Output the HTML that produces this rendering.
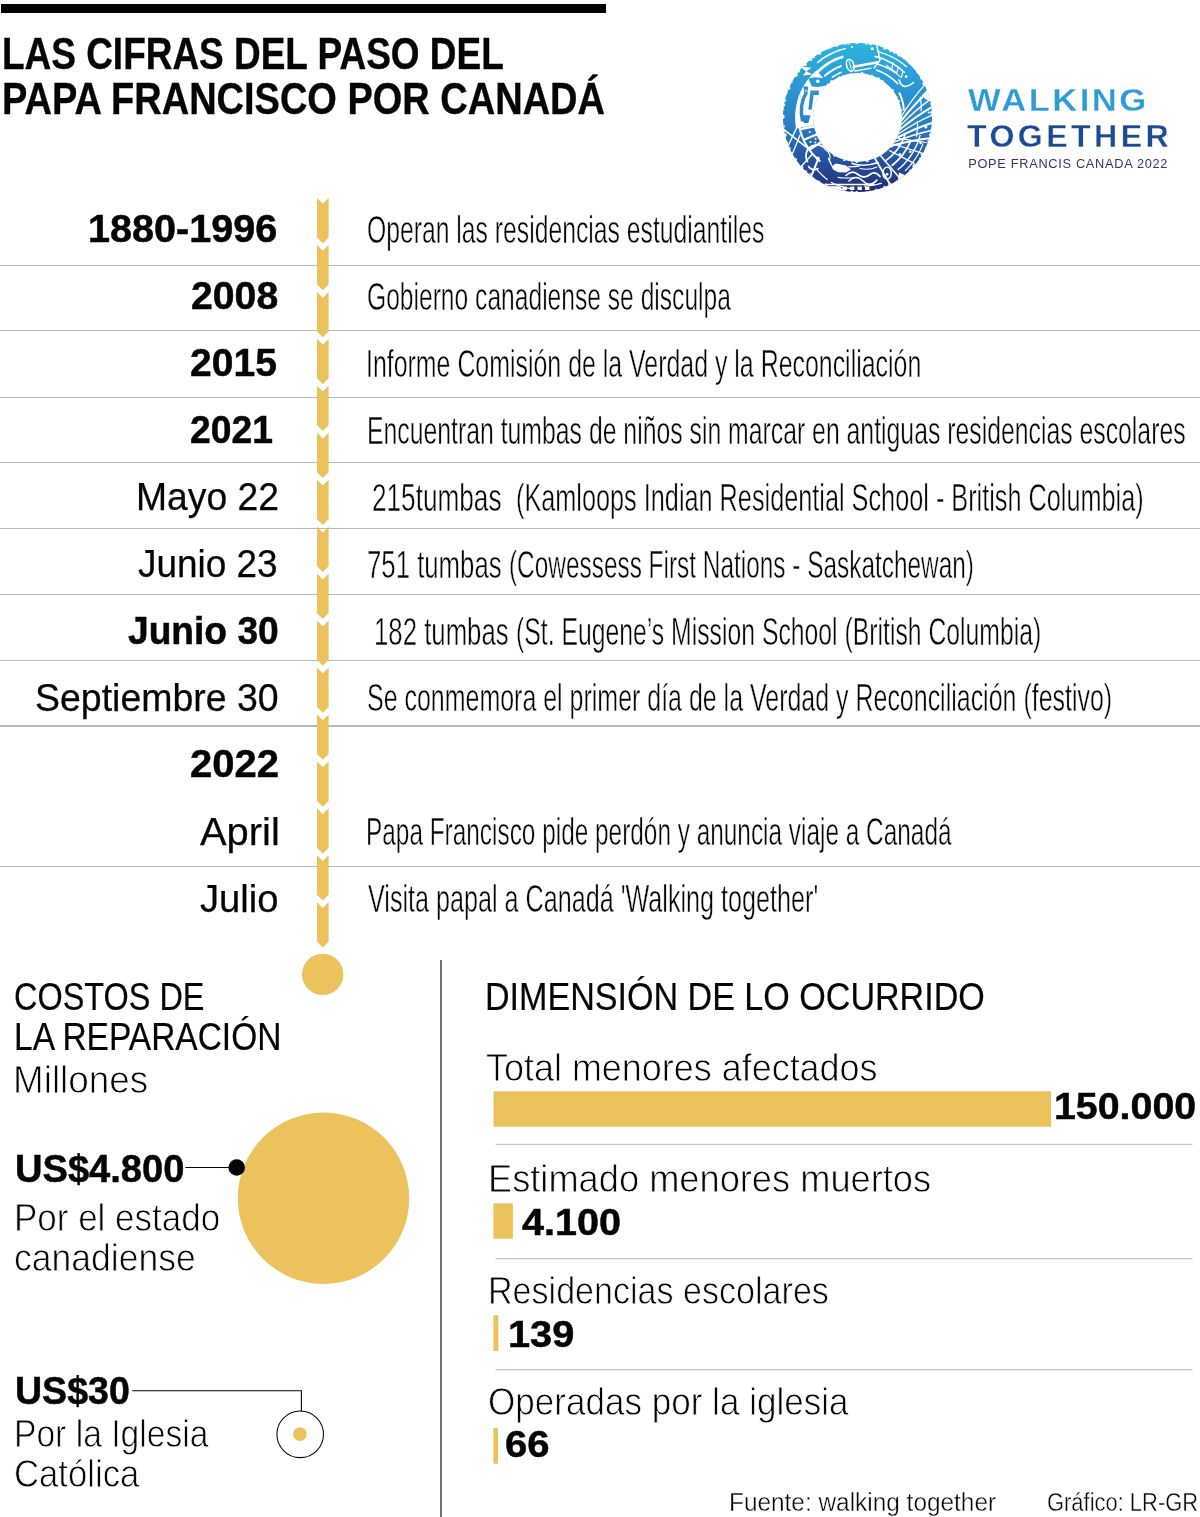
<!DOCTYPE html>
<html lang="es"><head><meta charset="utf-8"><title>Las cifras del paso del Papa Francisco por Canadá</title>
<style>
html,body{margin:0;padding:0;background:#fff}
body{width:1200px;height:1517px;position:relative;overflow:hidden;font-family:"Liberation Sans",sans-serif;color:#111}
.t{position:absolute;white-space:pre;line-height:1;transform-origin:0 0;color:#050505;font-weight:400}
.sep{position:absolute;left:0;width:1200px;height:1.3px;background:#b9b9b9}
.bar{position:absolute;left:1px;top:4px;width:605.2px;height:8.8px;background:#000}
.art{position:absolute;left:0;top:0}
.layer{position:absolute;left:0;top:0;width:1200px;height:1517px;will-change:transform}
</style></head><body>
<div class="bar"></div>
<div class="sep" style="top:264.75px"></div>
<div class="sep" style="top:330.05px"></div>
<div class="sep" style="top:396.65px"></div>
<div class="sep" style="top:461.85px"></div>
<div class="sep" style="top:527.85px"></div>
<div class="sep" style="top:593.65px"></div>
<div class="sep" style="top:659.65px"></div>
<div class="sep" style="top:725.35px"></div>
<div class="sep" style="top:865.85px"></div>
<svg class="art" width="1200" height="1517" viewBox="0 0 1200 1517">
<path fill="#ebc25b" d="M317.0 198.00L322.80 203.80L328.6 198.00L328.6 237.50L322.80 243.30L317.0 237.50ZM317.0 244.95L322.80 250.75L328.6 244.95L328.6 284.45L322.80 290.25L317.0 284.45ZM317.0 291.90L322.80 297.70L328.6 291.90L328.6 331.40L322.80 337.20L317.0 331.40ZM317.0 338.85L322.80 344.65L328.6 338.85L328.6 378.35L322.80 384.15L317.0 378.35ZM317.0 385.80L322.80 391.60L328.6 385.80L328.6 425.30L322.80 431.10L317.0 425.30ZM317.0 432.75L322.80 438.55L328.6 432.75L328.6 472.25L322.80 478.05L317.0 472.25ZM317.0 479.70L322.80 485.50L328.6 479.70L328.6 519.20L322.80 525.00L317.0 519.20ZM317.0 526.65L322.80 532.45L328.6 526.65L328.6 566.15L322.80 571.95L317.0 566.15ZM317.0 573.60L322.80 579.40L328.6 573.60L328.6 613.10L322.80 618.90L317.0 613.10ZM317.0 620.55L322.80 626.35L328.6 620.55L328.6 660.05L322.80 665.85L317.0 660.05ZM317.0 667.50L322.80 673.30L328.6 667.50L328.6 707.00L322.80 712.80L317.0 707.00ZM317.0 714.45L322.80 720.25L328.6 714.45L328.6 753.95L322.80 759.75L317.0 753.95ZM317.0 761.40L322.80 767.20L328.6 761.40L328.6 800.90L322.80 806.70L317.0 800.90ZM317.0 808.35L322.80 814.15L328.6 808.35L328.6 847.85L322.80 853.65L317.0 847.85ZM317.0 855.30L322.80 861.10L328.6 855.30L328.6 894.80L322.80 900.60L317.0 894.80ZM317.0 902.25L322.80 908.05L328.6 902.25L328.6 941.75L322.80 947.55L317.0 941.75Z"/>
<circle cx="322.7" cy="974.4" r="20.7" fill="#ebc25b"/>
<!-- bottom-left bubbles -->
<circle cx="323.5" cy="1198.2" r="85.7" fill="#ebc25b"/>
<line x1="185.3" y1="1167.5" x2="236" y2="1167.5" stroke="#050505" stroke-width="1.1"/>
<circle cx="236.7" cy="1167.5" r="8.3" fill="#050505"/>
<path d="M132.2 1390.7H301.4V1410.9" fill="none" stroke="#050505" stroke-width="1.1"/>
<circle cx="300.2" cy="1434.3" r="23.3" fill="#fff" stroke="#050505" stroke-width="1.05"/>
<circle cx="299.9" cy="1434.1" r="6.8" fill="#ebc25b"/>
<!-- divider -->
<rect x="440" y="960" width="2" height="560" fill="#707070"/>
<!-- bars -->
<rect x="493.5" y="1091.3" width="557.5" height="35.4" fill="#ebc25b"/>
<rect x="493.4" y="1203.3" width="19.5" height="35.4" fill="#ebc25b"/>
<rect x="493.4" y="1315.3" width="4.9" height="35.7" fill="#ebc25b"/>
<rect x="493.4" y="1428.0" width="4.6" height="35.7" fill="#ebc25b"/>
<rect x="495.5" y="1143.8" width="697" height="1.3" fill="#c4c4c4"/>
<rect x="495.5" y="1258.0" width="697" height="1.3" fill="#c4c4c4"/>
<rect x="495.5" y="1369.0" width="697" height="1.3" fill="#c4c4c4"/>
<defs><linearGradient id="lg" x1="0" y1="43" x2="0" y2="192" gradientUnits="userSpaceOnUse">
<stop offset="0" stop-color="#2db4dd"/><stop offset="0.3" stop-color="#2a97d3"/><stop offset="0.55" stop-color="#2a7fc4"/><stop offset="0.8" stop-color="#25509d"/><stop offset="1" stop-color="#232a73"/></linearGradient>
<clipPath id="rc"><path clip-rule="evenodd" d="M782.9 117.5a74.6 74.6 0 1 0 149.2 0a74.6 74.6 0 1 0 -149.2 0ZM813.0 117.5a44.5 44.5 0 1 1 89.0 0a44.5 44.5 0 1 1 -89.0 0Z"/></clipPath></defs>
<path fill="url(#lg)" fill-rule="evenodd" d="M782.9 117.5a74.6 74.6 0 1 0 149.2 0a74.6 74.6 0 1 0 -149.2 0ZM813.0 117.5a44.5 44.5 0 1 1 89.0 0a44.5 44.5 0 1 1 -89.0 0Z"/>
<g clip-path="url(#rc)" fill="none" stroke="#fff" stroke-linecap="round" stroke-linejoin="round">
<polygon points="795.9,128.4 795.2,122.0 795.0,115.5 795.6,109.1 796.8,102.8 798.6,96.6 801.0,90.7 804.1,85.0 807.7,79.7 811.9,74.8 816.5,70.3 829.3,85.0 826.1,88.1 823.2,91.5 820.8,95.2 818.7,99.1 817.0,103.1 815.7,107.4 814.9,111.7 814.5,116.1 814.6,120.6 815.2,125.0" fill="#fff" stroke="none"/><path d="M806.3 92.5Q798.8 105.0 802.6 121.3" stroke="url(#lg)" stroke-width="3.4" stroke-linecap="butt"/><polygon points="810.5,90.5 818.8,90.5 818.8,95.0 813.6,95.0 811.8,109.5 808.3,109.5" fill="url(#lg)" stroke="none"/><polygon points="803.5,86.0 808.2,86.8 807.3,94.5 804.5,94.5" fill="url(#lg)" stroke="none"/><circle cx="806.0" cy="90.6" r="0.9" fill="#fff" stroke="none"/><polygon points="801.5,115.3 810.5,115.3 808.3,123.0 803.8,123.0" fill="url(#lg)" stroke="none"/><polygon points="808.5,78.6 814.0,77.2 830.5,78.8 826.0,85.6 818.0,87.0 811.8,86.6" fill="url(#lg)" stroke="none"/><circle cx="817.8" cy="81.2" r="1.8" fill="#fff" stroke="none"/><polygon points="800.2,66.5 811.5,67.8 806.5,71.2 812.5,74.5 803.0,75.5 806.0,71.5" fill="#fff" stroke="none"/><path d="M817.0 72.5L819.1 70.5L821.4 68.5L823.7 66.6L826.1 64.8L828.6 63.2L831.2 61.7L833.9 60.3L836.7 59.0L839.5 57.9L842.4 56.9" stroke-width="2.6"/><path d="M824.9 75.7L826.3 74.5L827.8 73.4L829.3 72.3L830.8 71.3L832.4 70.3L834.0 69.3L835.7 68.4L837.3 67.6L839.1 66.9L840.8 66.1" stroke-width="2.0"/><path d="M817.5 62.5L820.0 60.6L822.5 58.7L825.1 57.0L827.8 55.5L830.5 54.0L833.4 52.6L836.3 51.4L839.3 50.3L842.3 49.4L845.3 48.6" stroke-width="1.5"/><path d="M832.3 77.2L833.2 76.7L834.0 76.1L834.8 75.6L835.7 75.1L836.6 74.6L837.5 74.1L838.3 73.7L839.2 73.2L840.2 72.8L841.1 72.4" stroke-width="1.6"/><ellipse cx="850.3" cy="65.3" rx="3.6" ry="6" transform="rotate(-18 850.3 65.3)" stroke-width="1.6"/><path d="M853.5 66.8L878.0 62.3" stroke-width="2.4"/><path d="M855.0 71.0L871.0 68.2" stroke-width="1.3"/><path d="M849.3 61.5L851.2 69.0" stroke-width="1.0"/><circle cx="872.3" cy="48.8" r="1.5" fill="#fff" stroke="none"/><circle cx="852.0" cy="47.0" r="1.0" fill="#fff" stroke="none"/><path d="M877.0 46.5L880.0 60.0" stroke-width="1.5"/><path d="M880.0 60.0L874.0 68.0" stroke-width="1.3"/><path d="M878.8 51.9L881.8 52.8L884.8 53.8L887.7 55.0L890.6 56.3L893.4 57.7L896.2 59.3L898.9 61.0L901.5 62.8L904.0 64.7L906.5 66.8" stroke-width="1.3"/><path d="M875.0 56.5L878.2 57.3L881.4 58.3L884.5 59.5L887.6 60.9L890.6 62.4L893.5 64.1L896.3 65.9L899.1 67.9L901.7 70.1L904.3 72.3" stroke-width="1.7"/><path d="M877.0 63.9L878.9 64.5L880.8 65.2L882.7 65.9L884.5 66.6L886.4 67.5L888.2 68.4L890.0 69.4L891.7 70.4L893.4 71.5L895.1 72.7" stroke-width="1.4"/><path d="M876.6 70.2L879.0 71.1L881.3 72.0L883.5 73.1L885.8 74.3L887.9 75.6L890.0 77.1L892.1 78.6L894.0 80.2L895.9 81.9L897.7 83.8" stroke-width="1.6"/><path d="M886.6 65.4L891.6 69.4L893.1 62.9" stroke-width="1.2"/><path d="M891.7 69.3L896.7 73.3L898.2 66.8" stroke-width="1.2"/><path d="M896.4 73.6L901.4 77.6L902.9 71.1" stroke-width="1.2"/><circle cx="906.1" cy="76.7" r="1.4" fill="#fff" stroke="none"/><path d="M899.1 80.0Q902.5 91.5 913.5 82.5" stroke-width="1.6"/><polygon points="928.0,89.0 921.8,95.4 925.6,99.3 931.8,101.7" fill="#fff" stroke="none"/><path d="M924.9 84.6Q912.3 98.6 901.5 116.0" stroke-width="1.3"/><path d="M928.0 91.8Q914.0 104.5 901.4 120.6" stroke-width="2.0"/><path d="M930.3 99.4Q915.1 110.4 900.8 125.1" stroke-width="1.3"/><path d="M931.8 107.1Q915.5 116.5 899.8 129.6" stroke-width="2.0"/><path d="M932.5 114.9Q915.3 122.6 898.3 134.0" stroke-width="1.3"/><path d="M932.3 122.7Q914.4 128.6 896.3 138.2" stroke-width="2.0"/><path d="M931.4 130.5Q913.0 134.5 894.0 142.1" stroke-width="1.3"/><path d="M929.6 138.2Q910.9 140.2 891.2 145.8" stroke-width="2.0"/><path d="M899.5 93.2L900.2 94.8L900.8 96.4L901.4 98.0L901.9 99.6L902.4 101.2L902.8 102.8L903.1 104.4L903.4 106.1L903.6 107.7L903.8 109.3" stroke-width="2.0"/><circle cx="925.8" cy="127.1" r="1.5" fill="#fff" stroke="none"/><circle cx="928.8" cy="112.5" r="1.1" fill="#fff" stroke="none"/><path d="M886.3 160.2L888.9 158.2L891.3 156.1L893.6 153.8L895.7 151.4L897.7 148.9L899.5 146.3L901.1 143.5L902.6 140.7L903.9 137.8L905.0 134.8" stroke-width="1.6"/><path d="M892.2 165.2L894.6 163.3L896.8 161.2L899.0 159.0L901.0 156.7L903.0 154.3L904.7 151.8L906.4 149.3L907.9 146.6L909.3 143.9L910.5 141.1" stroke-width="1.8"/><path d="M898.1 169.5L901.3 166.8L904.2 163.9L906.9 160.8L909.5 157.5L911.8 154.1L913.9 150.6L915.8 146.9L917.4 143.2L918.8 139.3L920.0 135.4" stroke-width="1.4"/><path d="M905.3 170.6L907.6 168.3L909.8 165.9L911.9 163.5L913.8 160.9L915.7 158.2L917.4 155.5L918.9 152.7L920.4 149.8L921.7 146.9L922.9 143.9" stroke-width="1.2"/><path d="M889.5 150.6L914.2 163.4" stroke-width="1.2"/><path d="M894.7 144.5L921.3 152.9" stroke-width="1.2"/><path d="M898.5 138.4L926.1 142.5" stroke-width="1.2"/><circle cx="899.8" cy="154.2" r="1.3" fill="#fff" stroke="none"/><circle cx="910.3" cy="151.8" r="1.3" fill="#fff" stroke="none"/><circle cx="920.5" cy="143.0" r="1.3" fill="#fff" stroke="none"/><path d="M874.7 158.0L890.8 185.8" stroke-width="1.8"/><path d="M880.2 155.2L901.1 179.8" stroke-width="1.5"/><ellipse cx="887.1" cy="173.1" rx="4.2" ry="6" stroke-width="1.4"/><circle cx="887.1" cy="174.3" r="1.4" fill="#fff" stroke="none"/><polygon points="906.4,175.7 899.0,172.6 897.8,182.0" fill="#fff" stroke="none"/><path d="M846 175.5q6 -6 12 -1t12 0q5 -4 10 2" stroke-width="1.7"/><path d="M849 181q7 -7 14 0t14 -1" stroke-width="1.6"/><path d="M852 163.5q12 4 26 -1" stroke-width="1.4"/><path d="M860 168.5q9 2 17 -1.5" stroke-width="1.2"/><path d="M826 184.4h48" stroke-width="1.5"/><rect x="842.5" y="186.6" width="4.4" height="3.4" fill="#fff" stroke="none"/><rect x="850" y="186.6" width="4.4" height="3.4" fill="#fff" stroke="none"/><rect x="857.5" y="186.6" width="4.4" height="3.4" fill="#fff" stroke="none"/><rect x="865" y="186.6" width="4.4" height="3.4" fill="#fff" stroke="none"/><polygon points="822.0,186.0 840.0,186.2 846.0,193.0 822.0,193.0" fill="#fff" stroke="none"/><polygon points="831.5,166.2 836.0,163.6 846.0,165.5 851.0,169.5 846.0,172.6 838.0,172.2 833.0,169.6" fill="#fff" stroke="none"/><circle cx="817.8" cy="158.4" r="2.0" fill="#fff" stroke="none"/><path d="M808.5 166.5q3.5 5 9.5 2" stroke-width="1.5"/><path d="M828.5 158.5L831.5 165.0" stroke-width="1.4"/><path d="M807.5 161.5A10.6 10.6 0 0 1 826.5 150.2" stroke-width="1.7"/><path d="M826.5 150.2q4.5 3.5 3.2 9.5" stroke-width="1.2"/><path d="M817.9 159.9L810.7 177.4" stroke-width="2.0"/><path d="M783.4 129.2L808.9 149.1" stroke-width="1.6"/><path d="M787.5 147.2L799.6 121.5" stroke-width="1.4"/><path d="M791.7 155.5L800.1 135.0" stroke-width="1.3"/><path d="M799.6 127.7L800.5 131.6L801.8 135.4L803.2 139.1L804.9 142.7L806.9 146.1L809.1 149.4L811.5 152.6L814.0 155.5L816.8 158.3L819.8 160.9" stroke-width="2.0"/><path d="M815.4 126.1L800.7 129.1" stroke-width="2.2"/><path d="M817.8 134.0L803.9 139.7" stroke-width="2.2"/><path d="M821.9 141.5L809.4 149.9" stroke-width="2.2"/><circle cx="809.7" cy="132.1" r="1.0" fill="#fff" stroke="none"/><circle cx="810.5" cy="142.0" r="1.0" fill="#fff" stroke="none"/><circle cx="815.3" cy="142.4" r="1.0" fill="#fff" stroke="none"/><circle cx="815.6" cy="138.8" r="1.0" fill="#fff" stroke="none"/><path d="M812.4 154.0L800.9 166.7" stroke-width="1.3"/><circle cx="932.6" cy="116.6" r="1.1" fill="#fff" stroke="none"/><circle cx="932.2" cy="124.8" r="1.0" fill="#fff" stroke="none"/><circle cx="931.4" cy="130.7" r="1.4" fill="#fff" stroke="none"/><circle cx="930.6" cy="134.7" r="1.6" fill="#fff" stroke="none"/><circle cx="928.9" cy="140.9" r="1.5" fill="#fff" stroke="none"/><circle cx="926.5" cy="147.2" r="1.0" fill="#fff" stroke="none"/><circle cx="922.7" cy="154.7" r="2.1" fill="#fff" stroke="none"/><circle cx="920.1" cy="158.9" r="1.2" fill="#fff" stroke="none"/><circle cx="914.6" cy="166.3" r="2.2" fill="#fff" stroke="none"/><circle cx="910.3" cy="170.9" r="1.5" fill="#fff" stroke="none"/><circle cx="903.8" cy="176.6" r="1.0" fill="#fff" stroke="none"/><circle cx="899.0" cy="180.1" r="1.3" fill="#fff" stroke="none"/><circle cx="896.7" cy="181.6" r="1.1" fill="#fff" stroke="none"/><circle cx="890.1" cy="185.1" r="2.0" fill="#fff" stroke="none"/><circle cx="884.8" cy="187.5" r="1.7" fill="#fff" stroke="none"/><circle cx="876.2" cy="190.2" r="1.4" fill="#fff" stroke="none"/><circle cx="870.3" cy="191.5" r="1.0" fill="#fff" stroke="none"/><circle cx="866.3" cy="192.1" r="1.2" fill="#fff" stroke="none"/><circle cx="856.6" cy="192.6" r="1.5" fill="#fff" stroke="none"/><circle cx="851.9" cy="192.4" r="1.7" fill="#fff" stroke="none"/><circle cx="844.7" cy="191.5" r="1.3" fill="#fff" stroke="none"/><circle cx="836.6" cy="189.6" r="1.9" fill="#fff" stroke="none"/><circle cx="833.1" cy="188.5" r="1.7" fill="#fff" stroke="none"/><circle cx="825.6" cy="185.5" r="2.1" fill="#fff" stroke="none"/><circle cx="818.9" cy="181.9" r="1.3" fill="#fff" stroke="none"/><circle cx="812.4" cy="177.5" r="1.1" fill="#fff" stroke="none"/><circle cx="809.6" cy="175.3" r="2.0" fill="#fff" stroke="none"/><circle cx="805.7" cy="171.9" r="1.6" fill="#fff" stroke="none"/><circle cx="801.6" cy="167.6" r="1.8" fill="#fff" stroke="none"/><circle cx="795.2" cy="159.4" r="1.7" fill="#fff" stroke="none"/><circle cx="791.5" cy="153.3" r="1.3" fill="#fff" stroke="none"/><circle cx="789.0" cy="148.3" r="1.7" fill="#fff" stroke="none"/><circle cx="786.8" cy="142.8" r="1.5" fill="#fff" stroke="none"/><circle cx="784.5" cy="135.2" r="2.2" fill="#fff" stroke="none"/><circle cx="783.6" cy="130.7" r="1.8" fill="#fff" stroke="none"/><circle cx="782.9" cy="126.3" r="1.9" fill="#fff" stroke="none"/><circle cx="782.4" cy="116.7" r="2.3" fill="#fff" stroke="none"/><circle cx="782.9" cy="109.3" r="1.3" fill="#fff" stroke="none"/><circle cx="783.4" cy="105.0" r="1.8" fill="#fff" stroke="none"/><circle cx="784.4" cy="100.5" r="1.5" fill="#fff" stroke="none"/><circle cx="786.4" cy="93.5" r="1.1" fill="#fff" stroke="none"/><circle cx="788.5" cy="87.9" r="2.0" fill="#fff" stroke="none"/><circle cx="791.5" cy="81.6" r="1.2" fill="#fff" stroke="none"/><circle cx="795.7" cy="74.9" r="2.1" fill="#fff" stroke="none"/><circle cx="798.6" cy="70.9" r="1.5" fill="#fff" stroke="none"/><circle cx="804.6" cy="64.2" r="2.1" fill="#fff" stroke="none"/><circle cx="810.5" cy="58.9" r="2.1" fill="#fff" stroke="none"/><circle cx="813.5" cy="56.7" r="1.5" fill="#fff" stroke="none"/><circle cx="819.3" cy="52.8" r="2.1" fill="#fff" stroke="none"/><circle cx="828.0" cy="48.5" r="1.1" fill="#fff" stroke="none"/><circle cx="830.2" cy="47.5" r="1.2" fill="#fff" stroke="none"/><circle cx="836.7" cy="45.3" r="1.6" fill="#fff" stroke="none"/><circle cx="844.9" cy="43.5" r="1.3" fill="#fff" stroke="none"/><circle cx="848.4" cy="43.0" r="1.5" fill="#fff" stroke="none"/><circle cx="856.8" cy="42.4" r="1.7" fill="#fff" stroke="none"/><circle cx="866.4" cy="42.9" r="1.9" fill="#fff" stroke="none"/><circle cx="870.6" cy="43.6" r="1.8" fill="#fff" stroke="none"/><circle cx="877.8" cy="45.2" r="1.0" fill="#fff" stroke="none"/><circle cx="885.1" cy="47.7" r="2.0" fill="#fff" stroke="none"/><circle cx="891.0" cy="50.3" r="2.0" fill="#fff" stroke="none"/><circle cx="894.6" cy="52.2" r="1.5" fill="#fff" stroke="none"/><circle cx="898.9" cy="54.8" r="1.8" fill="#fff" stroke="none"/><circle cx="904.0" cy="58.5" r="1.0" fill="#fff" stroke="none"/><circle cx="909.5" cy="63.3" r="1.1" fill="#fff" stroke="none"/><circle cx="914.5" cy="68.6" r="1.0" fill="#fff" stroke="none"/><circle cx="917.5" cy="72.3" r="1.1" fill="#fff" stroke="none"/><circle cx="921.5" cy="78.2" r="1.4" fill="#fff" stroke="none"/><circle cx="924.5" cy="83.5" r="2.1" fill="#fff" stroke="none"/><circle cx="928.3" cy="92.4" r="1.1" fill="#fff" stroke="none"/><circle cx="929.7" cy="96.8" r="1.4" fill="#fff" stroke="none"/><circle cx="931.3" cy="103.8" r="1.1" fill="#fff" stroke="none"/><circle cx="932.5" cy="112.8" r="2.3" fill="#fff" stroke="none"/><circle cx="901.7" cy="117.3" r="1.1" fill="#fff" stroke="none"/><circle cx="901.3" cy="123.4" r="0.8" fill="#fff" stroke="none"/><circle cx="898.8" cy="133.2" r="0.9" fill="#fff" stroke="none"/><circle cx="893.4" cy="143.2" r="0.8" fill="#fff" stroke="none"/><circle cx="891.3" cy="146.0" r="1.6" fill="#fff" stroke="none"/><circle cx="882.7" cy="153.8" r="0.8" fill="#fff" stroke="none"/><circle cx="875.2" cy="158.0" r="0.7" fill="#fff" stroke="none"/><circle cx="867.3" cy="160.6" r="1.6" fill="#fff" stroke="none"/><circle cx="856.8" cy="161.7" r="1.3" fill="#fff" stroke="none"/><circle cx="852.0" cy="161.4" r="1.0" fill="#fff" stroke="none"/><circle cx="844.3" cy="159.7" r="1.4" fill="#fff" stroke="none"/><circle cx="834.6" cy="155.3" r="1.4" fill="#fff" stroke="none"/><circle cx="828.7" cy="151.0" r="0.9" fill="#fff" stroke="none"/><circle cx="821.1" cy="142.5" r="1.6" fill="#fff" stroke="none"/><circle cx="816.9" cy="134.9" r="1.4" fill="#fff" stroke="none"/><circle cx="814.3" cy="127.0" r="1.4" fill="#fff" stroke="none"/><circle cx="813.6" cy="122.3" r="1.2" fill="#fff" stroke="none"/><circle cx="813.5" cy="113.0" r="0.7" fill="#fff" stroke="none"/><circle cx="814.7" cy="106.6" r="1.0" fill="#fff" stroke="none"/><circle cx="818.1" cy="97.4" r="1.3" fill="#fff" stroke="none"/><circle cx="825.5" cy="87.0" r="1.1" fill="#fff" stroke="none"/><circle cx="831.8" cy="81.5" r="1.6" fill="#fff" stroke="none"/><circle cx="839.3" cy="77.2" r="1.0" fill="#fff" stroke="none"/><circle cx="842.9" cy="75.8" r="0.9" fill="#fff" stroke="none"/><circle cx="851.0" cy="73.8" r="0.9" fill="#fff" stroke="none"/><circle cx="862.1" cy="73.5" r="1.5" fill="#fff" stroke="none"/><circle cx="871.7" cy="75.6" r="1.1" fill="#fff" stroke="none"/><circle cx="878.4" cy="78.6" r="1.4" fill="#fff" stroke="none"/><circle cx="882.6" cy="81.2" r="1.3" fill="#fff" stroke="none"/><circle cx="892.5" cy="90.5" r="1.4" fill="#fff" stroke="none"/><circle cx="896.5" cy="96.8" r="1.1" fill="#fff" stroke="none"/><circle cx="898.6" cy="101.2" r="1.4" fill="#fff" stroke="none"/><circle cx="901.1" cy="110.3" r="1.4" fill="#fff" stroke="none"/><path d="M831.3 182.4L833.0 183.3L834.8 184.0L836.7 184.8L838.5 185.5L840.4 186.1L842.3 186.7L844.2 187.3L846.1 187.8L848.1 188.2L850.0 188.6" stroke-width="1.3"/><path d="M838.0 177.4L839.8 177.6L841.6 177.8L843.3 178.0L845.1 178.0L846.8 178.1L848.6 178.0L850.3 178.0L852.0 177.9L853.7 177.7L855.4 177.5" stroke-width="1.2"/><path d="M864.7 186.1L866.4 186.0L868.1 185.9L869.8 185.7L871.5 185.5L873.1 185.2L874.8 184.9L876.5 184.6L878.1 184.2L879.8 183.7L881.4 183.3" stroke-width="1.2"/><path d="M848.8 166.7L849.9 166.8L850.9 166.8L852.0 166.7L853.0 166.7L854.1 166.6L855.1 166.5L856.1 166.4L857.2 166.3L858.2 166.1L859.2 166.0" stroke-width="1.3"/><path d="M916.5 136.7L916.7 135.2L916.9 133.7L917.1 132.1L917.3 130.6L917.4 129.1L917.4 127.6L917.5 126.1L917.5 124.7L917.4 123.2L917.4 121.7" stroke-width="1.2"/><path d="M921.1 110.8L921.2 109.5L921.2 108.1L921.2 106.7L921.2 105.4L921.1 104.0L921.0 102.6L920.8 101.2L920.7 99.9L920.5 98.5L920.3 97.1" stroke-width="1.2"/><path d="M816.9 169.5L817.8 170.6L818.7 171.7L819.7 172.7L820.7 173.7L821.7 174.7L822.8 175.7L823.9 176.7L825.0 177.7L826.1 178.6L827.3 179.5" stroke-width="1.2"/>
</g>
</svg>
<div class="layer">
<div class="t" style="left:1.65px;top:32.57px;font-size:43.53px;transform:scaleX(0.8493);font-weight:700;-webkit-text-stroke:0.35px #050505">LAS CIFRAS DEL PASO DEL</div>
<div class="t" style="left:1.58px;top:77.57px;font-size:43.53px;transform:scaleX(0.8731);font-weight:700;-webkit-text-stroke:0.35px #050505">PAPA FRANCISCO POR CANADÁ</div>
<div class="t" style="left:88.48px;top:211.14px;font-size:37.94px;transform:scaleX(1.0438);font-weight:700;-webkit-text-stroke:0.5px #050505">1880-1996</div>
<div class="t" style="left:190.82px;top:278.02px;font-size:37.94px;transform:scaleX(1.0334);font-weight:700;-webkit-text-stroke:0.5px #050505">2008</div>
<div class="t" style="left:190.32px;top:344.90px;font-size:37.94px;transform:scaleX(1.0296);font-weight:700;-webkit-text-stroke:0.5px #050505">2015</div>
<div class="t" style="left:190.38px;top:411.78px;font-size:37.94px;transform:scaleX(0.9833);font-weight:700;-webkit-text-stroke:0.5px #050505">2021</div>
<div class="t" style="left:135.83px;top:478.35px;font-size:38.45px;transform:scaleX(0.9695);-webkit-text-stroke:0.25px #050505">Mayo 22</div>
<div class="t" style="left:138.31px;top:545.23px;font-size:38.45px;transform:scaleX(0.9599);-webkit-text-stroke:0.25px #050505">Junio 23</div>
<div class="t" style="left:127.61px;top:612.17px;font-size:38.23px;transform:scaleX(0.9720);font-weight:700;-webkit-text-stroke:0.5px #050505">Junio 30</div>
<div class="t" style="left:34.69px;top:678.99px;font-size:38.45px;transform:scaleX(0.9746);-webkit-text-stroke:0.25px #050505">Septiembre 30</div>
<div class="t" style="left:189.79px;top:746.18px;font-size:37.94px;transform:scaleX(1.0538);font-weight:700;-webkit-text-stroke:0.5px #050505">2022</div>
<div class="t" style="left:200.01px;top:812.75px;font-size:38.45px;transform:scaleX(1.0385);-webkit-text-stroke:0.25px #050505">April</div>
<div class="t" style="left:200.49px;top:879.63px;font-size:38.45px;transform:scaleX(0.9931);-webkit-text-stroke:0.25px #050505">Julio</div>
<div class="t" style="left:366.65px;top:211.24px;font-size:38.52px;transform:scaleX(0.6421);-webkit-text-stroke:0.5px #fff">Operan las residencias estudiantiles</div>
<div class="t" style="left:366.59px;top:278.12px;font-size:38.52px;transform:scaleX(0.6390);-webkit-text-stroke:0.5px #fff">Gobierno canadiense se disculpa</div>
<div class="t" style="left:366.03px;top:345.00px;font-size:38.52px;transform:scaleX(0.6468);-webkit-text-stroke:0.5px #fff">Informe Comisión de la Verdad y la Reconciliación</div>
<div class="t" style="left:366.59px;top:411.88px;font-size:38.52px;transform:scaleX(0.6437);-webkit-text-stroke:0.5px #fff">Encuentran tumbas de niños sin marcar en antiguas residencias escolares</div>
<div class="t" style="left:372.11px;top:478.76px;font-size:38.52px;transform:scaleX(0.6796);-webkit-text-stroke:0.5px #fff">215tumbas</div>
<div class="t" style="left:515.86px;top:478.76px;font-size:38.52px;transform:scaleX(0.6559);-webkit-text-stroke:0.5px #fff">(Kamloops Indian Residential School - British Columbia)</div>
<div class="t" style="left:367.00px;top:545.64px;font-size:38.52px;transform:scaleX(0.6687);-webkit-text-stroke:0.5px #fff">751 tumbas</div>
<div class="t" style="left:508.71px;top:545.64px;font-size:38.52px;transform:scaleX(0.6333);-webkit-text-stroke:0.5px #fff">(Cowessess First Nations - Saskatchewan)</div>
<div class="t" style="left:373.86px;top:612.52px;font-size:38.52px;transform:scaleX(0.6689);-webkit-text-stroke:0.5px #fff">182 tumbas</div>
<div class="t" style="left:515.89px;top:612.52px;font-size:38.52px;transform:scaleX(0.6429);-webkit-text-stroke:0.5px #fff">(St. Eugene’s Mission School (British Columbia)</div>
<div class="t" style="left:367.19px;top:679.40px;font-size:38.52px;transform:scaleX(0.6482);-webkit-text-stroke:0.5px #fff">Se conmemora el primer día de la Verdad y Reconciliación (festivo)</div>
<div class="t" style="left:366.32px;top:813.16px;font-size:38.52px;transform:scaleX(0.6330);-webkit-text-stroke:0.5px #fff">Papa Francisco pide perdón y anuncia viaje a Canadá</div>
<div class="t" style="left:367.91px;top:880.04px;font-size:38.52px;transform:scaleX(0.6533);-webkit-text-stroke:0.5px #fff">Visita papal a Canadá 'Walking together'</div>
<div class="t" style="left:13.92px;top:976.91px;font-size:39.68px;transform:scaleX(0.8176);-webkit-text-stroke:0.2px #050505">COSTOS DE</div>
<div class="t" style="left:14.32px;top:1016.81px;font-size:39.68px;transform:scaleX(0.8443);-webkit-text-stroke:0.2px #050505">LA REPARACIÓN</div>
<div class="t" style="left:13.20px;top:1061.15px;font-size:38.81px;transform:scaleX(0.9499);-webkit-text-stroke:0.8px #fff">Millones</div>
<div class="t" style="left:14.89px;top:1150.28px;font-size:38.95px;transform:scaleX(0.9783);font-weight:700;-webkit-text-stroke:0.5px #050505">US$4.800</div>
<div class="t" style="left:13.85px;top:1199.05px;font-size:38.81px;transform:scaleX(0.9017);-webkit-text-stroke:0.8px #fff">Por el estado</div>
<div class="t" style="left:14.01px;top:1238.75px;font-size:38.81px;transform:scaleX(0.9160);-webkit-text-stroke:0.8px #fff">canadiense</div>
<div class="t" style="left:14.92px;top:1371.98px;font-size:38.95px;transform:scaleX(0.9642);font-weight:700;-webkit-text-stroke:0.5px #050505">US$30</div>
<div class="t" style="left:13.96px;top:1415.05px;font-size:38.81px;transform:scaleX(0.8666);-webkit-text-stroke:0.8px #fff">Por la Iglesia</div>
<div class="t" style="left:13.76px;top:1454.95px;font-size:38.81px;transform:scaleX(0.8938);-webkit-text-stroke:0.8px #fff">Católica</div>
<div class="t" style="left:484.67px;top:976.81px;font-size:39.68px;transform:scaleX(0.8589);-webkit-text-stroke:0.2px #050505">DIMENSIÓN DE LO OCURRIDO</div>
<div class="t" style="left:485.91px;top:1049.05px;font-size:38.81px;transform:scaleX(0.9263);-webkit-text-stroke:0.8px #fff">Total menores afectados</div>
<div class="t" style="left:1054.30px;top:1088.21px;font-size:37.50px;transform:scaleX(1.0486);font-weight:700;-webkit-text-stroke:0.5px #050505">150.000</div>
<div class="t" style="left:487.65px;top:1159.85px;font-size:38.81px;transform:scaleX(0.9341);-webkit-text-stroke:0.8px #fff">Estimado menores muertos</div>
<div class="t" style="left:522.48px;top:1204.01px;font-size:37.50px;transform:scaleX(1.0546);font-weight:700;-webkit-text-stroke:0.5px #050505">4.100</div>
<div class="t" style="left:487.82px;top:1271.85px;font-size:38.81px;transform:scaleX(0.8782);-webkit-text-stroke:0.8px #fff">Residencias escolares</div>
<div class="t" style="left:507.67px;top:1316.01px;font-size:37.50px;transform:scaleX(1.0601);font-weight:700;-webkit-text-stroke:0.5px #050505">139</div>
<div class="t" style="left:487.66px;top:1382.65px;font-size:38.81px;transform:scaleX(0.9036);-webkit-text-stroke:0.8px #fff">Operadas por la iglesia</div>
<div class="t" style="left:504.71px;top:1426.11px;font-size:37.50px;transform:scaleX(1.0684);font-weight:700;-webkit-text-stroke:0.5px #050505">66</div>
<div class="t" style="left:729.46px;top:1489.41px;font-size:26.45px;transform:scaleX(0.9226);-webkit-text-stroke:0.4px #fff">Fuente: walking together</div>
<div class="t" style="left:1046.76px;top:1489.41px;font-size:26.45px;transform:scaleX(0.8295);-webkit-text-stroke:0.4px #fff">Gráfico: LR-GR</div>
<div class="t" style="left:967.56px;top:85.94px;font-size:30.96px;letter-spacing:2.168px;transform:scaleX(1.12);font-weight:700;color:#2d9bd4;-webkit-text-stroke:0.3px #fff">WALKING</div>
<div class="t" style="left:966.93px;top:120.46px;font-size:32.12px;letter-spacing:3.421px;font-weight:700;color:#1c4b94;-webkit-text-stroke:0.3px #fff">TOGETHER</div>
<div class="t" style="left:968.25px;top:158.47px;font-size:12.79px;letter-spacing:0.691px;color:#34346e">POPE FRANCIS CANADA 2022</div>
</div>
</body></html>
